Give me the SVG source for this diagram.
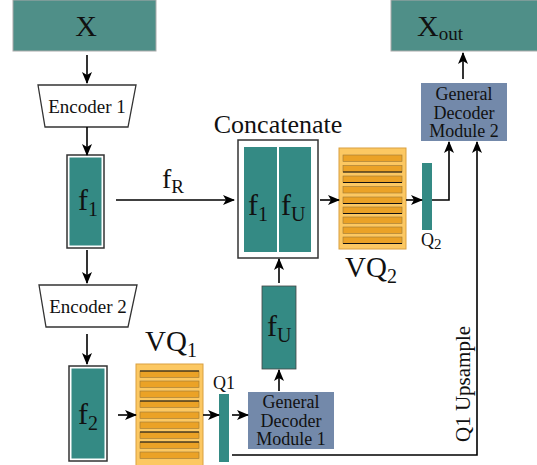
<svg xmlns="http://www.w3.org/2000/svg" width="537" height="465" viewBox="0 0 537 465" font-family="'Liberation Serif', 'Times New Roman', 'DejaVu Serif', serif">
<defs>
<marker id="ah" viewBox="0 0 12 10" refX="11" refY="5" markerWidth="12" markerHeight="10" markerUnits="userSpaceOnUse" orient="auto">
<path d="M0,0 L12,5 L0,10 L3,5 Z" fill="#000"/>
</marker>
</defs>
<style>
text{fill:#111}
.io{fill:#4f8f88;stroke:#aaa;stroke-width:1}
.feat{fill:#348a84}
.frame{fill:#fff;stroke:#333;stroke-width:1.5}
.enc{fill:#fff;stroke:#333;stroke-width:1.3}
.gdm{fill:#7389aa}
.vq{fill:#fcc862;stroke:#d9a040;stroke-width:1}
.st{fill:#eba226;stroke:#9a7838;stroke-width:0.6}
.bl{stroke:#111;stroke-width:1}
.c2{fill:none;stroke:#000;stroke-width:1.6;marker-end:url(#ah)}
</style>

<g id="X">
<rect class="io" x="13" y="0" width="143" height="51"/>
<text x="86" y="36" font-size="30" text-anchor="middle">X</text>
</g>

<g id="Xout">
<rect class="io" x="391" y="0" width="150" height="51"/>
<text x="440" y="36" font-size="30" text-anchor="middle">X<tspan font-size="19" dy="4">out</tspan></text>
</g>

<g id="encoder1">
<polygon class="enc" points="38,85 136,85 128,127 45,127"/>
<text x="87" y="113" font-size="19" text-anchor="middle">Encoder 1</text>
</g>

<g id="f1">
<rect class="frame" x="67" y="155" width="37" height="93" stroke-width="1.2"/>
<rect class="feat" x="69.5" y="157.5" width="32" height="88"/>
<text x="78" y="210" font-size="30">f<tspan font-size="20" dy="6">1</tspan></text>
</g>

<g id="encoder2">
<polygon class="enc" points="39,285 137,285 128,327 46,327"/>
<text x="88" y="313" font-size="19" text-anchor="middle">Encoder 2</text>
</g>

<g id="f2">
<rect class="frame" x="69" y="366" width="38" height="95" stroke-width="1.2"/>
<rect class="feat" x="71.5" y="368.5" width="33" height="90"/>
<text x="78" y="424" font-size="30">f<tspan font-size="20" dy="6">2</tspan></text>
</g>

<g id="VQ1">
<rect class="vq" x="136" y="364" width="67" height="103"/>
<rect class="st" x="140" y="371" width="59" height="6.5"/>
<rect class="st" x="140" y="381" width="59" height="6.5"/>
<rect class="st" x="140" y="391" width="59" height="6.5"/>
<rect class="st" x="140" y="401" width="59" height="6.5"/>
<rect class="st" x="140" y="412" width="59" height="6.5"/>
<rect class="st" x="140" y="422" width="59" height="6.5"/>
<rect class="st" x="140" y="432" width="59" height="6.5"/>
<rect class="st" x="140" y="442" width="59" height="6.5"/>
<rect class="st" x="140" y="452" width="59" height="6.5"/>
<line class="bl" x1="140" y1="371" x2="199" y2="371"/>
<line class="bl" x1="140" y1="401" x2="199" y2="401"/>
<line class="bl" x1="140" y1="432" x2="199" y2="432"/>
<line class="bl" x1="140" y1="442" x2="199" y2="442"/>
<text x="145" y="351" font-size="29">VQ<tspan font-size="20" dy="6">1</tspan></text>
</g>

<g id="Q1">
<rect class="feat" x="219" y="394" width="10" height="68"/>
<text x="213" y="389" font-size="18">Q1</text>
</g>

<g id="GDM1">
<rect class="gdm" x="248" y="392" width="86" height="57"/>
<text x="291" y="408" font-size="18" text-anchor="middle">General</text>
<text x="291" y="426.5" font-size="18" text-anchor="middle">Decoder</text>
<text x="291" y="445" font-size="18" text-anchor="middle">Module 1</text>
</g>

<g id="fU">
<rect class="feat" x="262" y="286" width="34" height="83" stroke="#444" stroke-width="0.8"/>
<text x="267" y="336" font-size="30">f<tspan font-size="20" dy="6">U</tspan></text>
</g>

<g id="concatenate">
<text x="278" y="133" font-size="26" text-anchor="middle">Concatenate</text>
<rect class="frame" x="238" y="140" width="80" height="118"/>
<rect class="feat" x="244" y="147" width="33" height="105"/>
<rect class="feat" x="279" y="147" width="32" height="105"/>
<text x="248" y="215" font-size="30">f<tspan font-size="20" dy="6">1</tspan></text>
<text x="281" y="215" font-size="30">f<tspan font-size="20" dy="6">U</tspan></text>
</g>

<g id="VQ2">
<rect class="vq" x="339" y="148" width="67" height="101"/>
<rect class="st" x="343" y="155" width="59" height="6.5"/>
<rect class="st" x="343" y="165.5" width="59" height="6.5"/>
<rect class="st" x="343" y="176" width="59" height="6.5"/>
<rect class="st" x="343" y="186.5" width="59" height="6.5"/>
<rect class="st" x="343" y="197" width="59" height="6.5"/>
<rect class="st" x="343" y="207" width="59" height="6.5"/>
<rect class="st" x="343" y="217" width="59" height="6.5"/>
<rect class="st" x="343" y="227" width="59" height="6.5"/>
<rect class="st" x="343" y="237" width="59" height="6.5"/>
<line class="bl" x1="343" y1="172" x2="402" y2="172"/>
<line class="bl" x1="343" y1="182.5" x2="402" y2="182.5"/>
<line class="bl" x1="343" y1="203.5" x2="402" y2="203.5"/>
<line class="bl" x1="343" y1="213.5" x2="402" y2="213.5"/>
<line class="bl" x1="343" y1="243.5" x2="402" y2="243.5"/>
<text x="345" y="277" font-size="29">VQ<tspan font-size="20" dy="6">2</tspan></text>
</g>

<g id="Q2">
<rect class="feat" x="422" y="163" width="10" height="67"/>
<text x="421" y="246" font-size="18">Q<tspan font-size="15" dy="3">2</tspan></text>
</g>

<g id="GDM2">
<rect class="gdm" x="421" y="83" width="86" height="58"/>
<text x="464" y="100" font-size="18" text-anchor="middle">General</text>
<text x="464" y="118.5" font-size="18" text-anchor="middle">Decoder</text>
<text x="464" y="137" font-size="18" text-anchor="middle">Module 2</text>
</g>

<g id="connectors">
<line class="c2" x1="87" y1="55" x2="87" y2="83"/>
<line class="c2" x1="87" y1="127" x2="87" y2="155"/>
<line class="c2" x1="87" y1="250" x2="87" y2="283"/>
<line class="c2" x1="87" y1="334" x2="87" y2="364"/>
<line class="c2" x1="116" y1="200" x2="234" y2="200"/>
<text x="162" y="188" font-size="28">f<tspan font-size="19" dy="5">R</tspan></text>
<line class="c2" x1="118" y1="415" x2="136" y2="415"/>
<line class="c2" x1="203" y1="415" x2="219" y2="415"/>
<line class="c2" x1="232" y1="415" x2="248" y2="415"/>
<line class="c2" x1="279" y1="391" x2="279" y2="370"/>
<line class="c2" x1="279" y1="283" x2="279" y2="259"/>
<line class="c2" x1="320" y1="200" x2="339" y2="200"/>
<line class="c2" x1="406" y1="200" x2="422" y2="200"/>
<polyline class="c2" points="432,200 449,200 449,142"/>
<polyline class="c2" points="232,455 477,455 477,142"/>
<line class="c2" x1="463" y1="79" x2="463" y2="53"/>
<text transform="translate(470,384) rotate(-90)" font-size="21" text-anchor="middle">Q1 Upsample</text>
</g>
</svg>
